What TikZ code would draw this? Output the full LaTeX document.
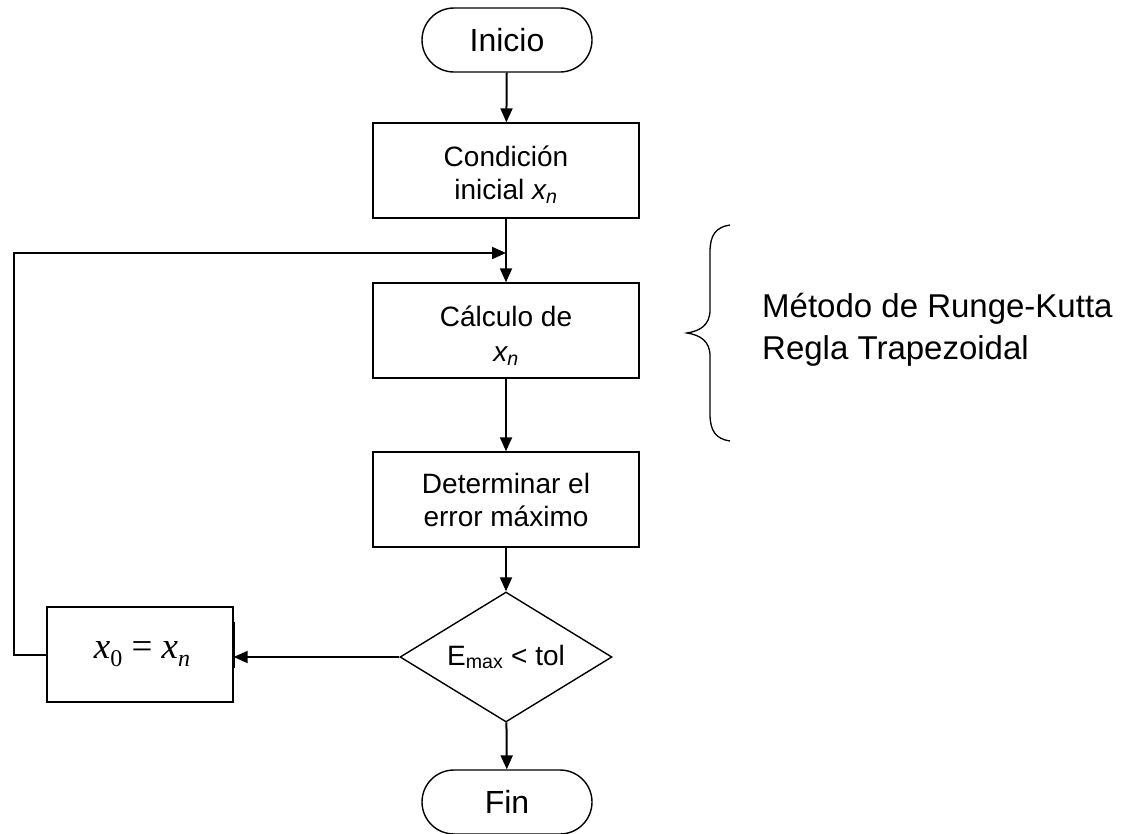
\documentclass[tikz,border=0pt]{standalone}
\usepackage{fontspec}
\setmainfont{Liberation Sans}
\newfontfamily\timesfont{Liberation Serif}
\usetikzlibrary{arrows.meta,shapes.geometric,calc}
\begin{document}
\begin{tikzpicture}[x=1pt,y=-1pt,
  line join=miter,
  procbox/.style={draw,line width=1.4pt,minimum width=266pt,minimum height=95pt,inner sep=0pt,align=center,font=\fontsize{28}{33}\selectfont},
  terminal/.style={draw,line width=1.4pt,rounded corners=32pt,minimum width=170pt,minimum height=64pt,inner sep=0pt,font=\fontsize{32}{36}\selectfont},
  decision/.style={draw,line width=1.4pt,diamond,shape aspect=1.63,minimum width=212pt,minimum height=130pt,inner sep=0pt,font=\fontsize{28}{32}\selectfont},
  flow/.style={line width=2pt,-{Triangle[length=14pt,width=12pt]}},
  sidetext/.style={anchor=west,inner sep=0pt,font=\fontsize{33}{38}\selectfont}]
\useasboundingbox (0,0) rectangle (1135,833);

% main column
\node[terminal] (ini) at (507,40) {Inicio};
\node[procbox] (c1) at (506,170.5) {\rule{0pt}{29pt}Condición\\ inicial \textit{x\textsubscript{n}}};
\node[procbox] (c2) at (506,330.5) {\rule{0pt}{31pt}Cálculo de\\[2pt] \textit{x\textsubscript{n}}};
\node[procbox] (c3) at (506,499.5) {Determinar el\\ error máximo};
\node[decision] (d) at (506,657) {E\textsubscript{max} < tol};
\node[terminal] (fin) at (507,802) {Fin};

% update box on the left
\node[draw,line width=1.4pt,minimum width=186pt,minimum height=95pt,inner sep=0pt,font=\timesfont\fontsize{37}{40}\selectfont] (x0) at (140,654.5)
  {\hspace{4pt}\textit{x}\raisebox{-8pt}{\fontsize{24}{26}\selectfont 0} = \textit{x}\raisebox{-8pt}{\fontsize{24}{26}\selectfont\textit{n}}};

% connectors
\draw[flow] (ini) -- (c1);
\draw[flow] (c1) -- (c2);
\draw[flow] (c2) -- (c3);
\draw[flow] (c3) -- (d);
\draw[flow] (d) -- (fin);
\draw[flow] (d.west) -- (x0.east |- d.west);
\draw[line width=3pt] ($(x0.east)+(0,-33)$) -- ($(x0.east)+(0,13)$);

\coordinate (j) at (506,253);
\coordinate (lb) at (14,655);
\draw[flow] (x0.west |- lb) -- (lb) -- (lb |- j) -- (j);

% brace and methods
\draw[line width=1.3pt] (730,225) .. controls (716,227) and (710,235) .. (710,252)
  -- (710,310) .. controls (710,325) and (700,331) .. (687,333)
  .. controls (700,335) and (710,341) .. (710,356)
  -- (710,414) .. controls (710,431) and (716,439) .. (730,441);
\node[sidetext] (m1) at (762,309) {Método de Runge-Kutta};
\node[sidetext] (m2) at (762,351) {Regla Trapezoidal};
\end{tikzpicture}
\end{document}
